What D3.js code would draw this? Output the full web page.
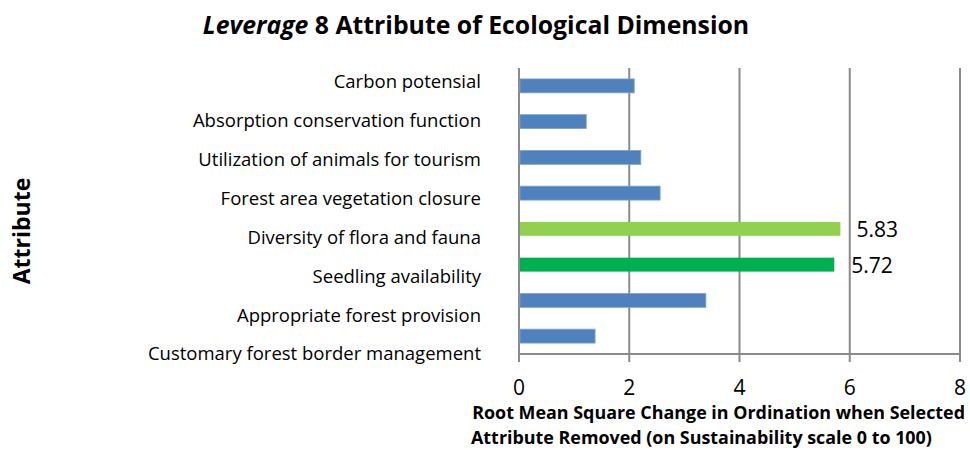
<!DOCTYPE html>
<html>
<head>
<meta charset="utf-8">
<script src="https://cdn.jsdelivr.net/npm/d3@7"></script>
<style>
  body { margin: 0; background: #fff; }
  text { font-family: "Open Sans", Lato, sans-serif; fill: #000; }
</style>
</head>
<body>
<div id="chart"></div>
<script>
var width = 970,
    height = 450;

// data, top to bottom
var attributes = ["Carbon potensial", "Absorption conservation function", "Utilization of animals for tourism",
                  "Forest area vegetation closure", "Diversity of flora and fauna", "Seedling availability",
                  "Appropriate forest provision", "Customary forest border management"];
var rmsValues = [2.09, 1.22, 2.21, 2.56, 5.83, 5.72, 3.39, 1.38];
var barColors = ["#4f81bd", "#4f81bd", "#4f81bd", "#4f81bd", "#92d050", "#00b050", "#4f81bd", "#4f81bd"];
var shownLabels = ["", "", "", "", "5.83", "5.72", "", ""];
var xTicks = [0, 2, 4, 6, 8];

var plot = {left: 519, right: 960, top: 68, bottom: 354};

var svg = d3.select("#chart").append("svg").attr("width", width).attr("height", height);

var x = d3.scaleLinear().domain([0, 8]).range([plot.left, plot.right]);
var y = d3.scaleBand().domain(attributes).range([plot.top, plot.bottom]).paddingInner(0.61).paddingOuter(0.305);
// category labels sit on their own spacing in the original
var yLabel = d3.scalePoint().domain(attributes).range([82, 354]);

// vertical gridlines
svg.selectAll(".grid").data(xTicks).enter().append("line")
    .attr("x1", d => x(d)).attr("x2", d => x(d))
    .attr("y1", plot.top).attr("y2", plot.bottom + 8)
    .attr("stroke", "#8a8a8a").attr("stroke-width", 2);

// x axis line
svg.append("line").attr("x1", plot.left).attr("x2", plot.right + 1)
    .attr("y1", plot.bottom).attr("y2", plot.bottom)
    .attr("stroke", "#8a8a8a").attr("stroke-width", 2);

// bars
svg.selectAll(".bar").data(rmsValues).enter().append("rect")
    .attr("x", x(0) + 1)
    .attr("y", (d, i) => y(attributes[i]))
    .attr("width", d => x(d) - x(0) - 1)
    .attr("height", y.bandwidth())
    .attr("fill", (d, i) => barColors[i])
    .attr("stroke", (d, i) => barColors[i] == "#4f81bd" ? "#7ea3d2" : "none")
    .attr("stroke-width", 0.8);

// value labels for the two highlighted bars
svg.selectAll(".val").data(rmsValues).enter().append("text")
    .attr("x", (d, i) => i == 4 ? x(d) + 16 : x(d) + 17)
    .attr("y", (d, i) => y(attributes[i]) + y.bandwidth() / 2 + 8)
    .style("font-size", "21px")
    .text((d, i) => shownLabels[i]);

// category labels
svg.selectAll(".cat").data(attributes).enter().append("text")
    .attr("x", 481).attr("y", d => yLabel(d))
    .attr("dy", "0.35em")
    .attr("text-anchor", "end")
    .style("font-size", "18.5px")
    .text(d => d);

// tick labels
svg.selectAll(".tick").data(xTicks).enter().append("text")
    .attr("x", d => x(d)).attr("y", 395)
    .attr("text-anchor", "middle")
    .style("font-size", "21px")
    .text(d => d);

// title
var title = svg.append("text").attr("x", 476).attr("y", 34)
    .attr("text-anchor", "middle").style("font-size", "24.8px").style("font-weight", "bold");
title.append("tspan").style("font-style", "italic").text("Leverage");
title.append("tspan").text(" 8 Attribute of Ecological Dimension");

// x axis title
var xTitle = svg.append("text").attr("x", 965).attr("text-anchor", "end")
    .style("font-size", "17.9px").style("font-weight", "bold");
xTitle.append("tspan").attr("x", 965).attr("y", 419).text("Root Mean Square Change in Ordination when Selected");
xTitle.append("tspan").attr("x", 471).attr("y", 444).attr("text-anchor", "start")
    .text("Attribute Removed (on Sustainability scale 0 to 100)");

// y axis title
svg.append("text").attr("transform", "translate(30,231) rotate(-90)")
    .attr("text-anchor", "middle").style("font-size", "23px").style("font-weight", "bold")
    .text("Attribute");
</script>
</body>
</html>
